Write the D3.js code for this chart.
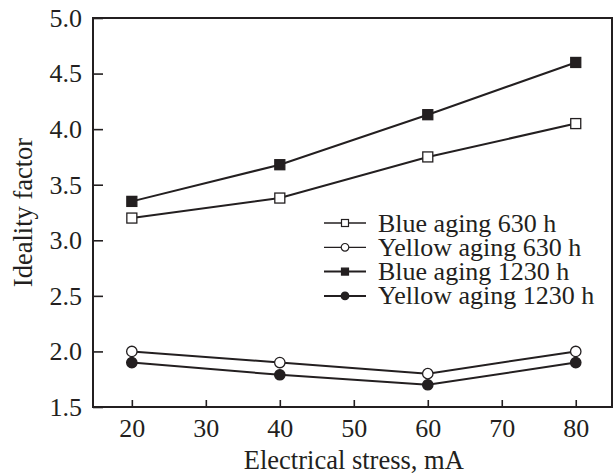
<!DOCTYPE html>
<html>
<head>
<meta charset="utf-8">
<script src="https://cdn.jsdelivr.net/npm/d3@7"></script>
<style>
  body { margin: 0; background: #fff; }
  text { font-family: "Liberation Serif", "Times New Roman", serif; fill: #231f20; }
</style>
</head>
<body>
<div id="chart"></div>
<script>
const stress = [20, 40, 60, 80];
const blue630 = [3.20, 3.38, 3.75, 4.05];
const yellow630 = [2.00, 1.90, 1.80, 2.00];
const blue1230 = [3.35, 3.68, 4.13, 4.60];
const yellow1230 = [1.90, 1.79, 1.70, 1.90];
const xTicks = [20, 30, 40, 50, 60, 70, 80];
const yTicks = [1.5, 2.0, 2.5, 3.0, 3.5, 4.0, 4.5, 5.0];
const seriesNames = ["Blue aging 630 h", "Yellow aging 630 h", "Blue aging 1230 h", "Yellow aging 1230 h"];

const series = [
  {name: seriesNames[0], values: blue630, shape: "square", fill: "#fff"},
  {name: seriesNames[1], values: yellow630, shape: "circle", fill: "#fff"},
  {name: seriesNames[2], values: blue1230, shape: "square", fill: "#231f20"},
  {name: seriesNames[3], values: yellow1230, shape: "circle", fill: "#231f20"}
];

const W = 613, H = 475;
const margin = {top: 18, right: 1, bottom: 68, left: 93};
const width = W - margin.left - margin.right;
const height = H - margin.top - margin.bottom;
const ink = "#231f20";

const svg = d3.select("#chart").append("svg")
  .attr("width", W)
  .attr("height", H);

const g = svg.append("g")
  .attr("transform", "translate(" + margin.left + "," + margin.top + ")");

const x = d3.scaleLinear().domain([14.75, 84.9]).range([0, width]);
const y = d3.scaleLinear().domain([1.5, 5.0]).range([height, 0]);

// frame
g.append("rect")
  .attr("width", width).attr("height", height)
  .attr("fill", "none").attr("stroke", ink).attr("stroke-width", 2);

// axes with inward ticks
const xAxis = g.append("g")
  .attr("transform", "translate(0," + height + ")")
  .call(d3.axisBottom(x).tickValues(xTicks).tickSize(-7).tickFormat(d3.format("d")));
const yAxis = g.append("g")
  .call(d3.axisLeft(y).tickValues(yTicks).tickSize(-10).tickPadding(11).tickFormat(d3.format(".1f")));

[xAxis, yAxis].forEach(a => {
  a.select(".domain").remove();
  a.selectAll(".tick line").attr("stroke", ink).attr("stroke-width", 1.6);
  a.selectAll("text").style("font-size", "26px").style("font-family", "Liberation Serif, serif").attr("fill", ink);
});
xAxis.selectAll("text").attr("y", 30).attr("dy", 0);

const line = d3.line()
  .x((d, i) => x(stress[i]))
  .y(d => y(d));

function drawMarker(sel, shape, fill) {
  if (shape === "square") {
    sel.append("rect").attr("x", -5).attr("y", -5).attr("width", 10).attr("height", 10)
      .attr("fill", fill).attr("stroke", ink).attr("stroke-width", 1.3);
  } else {
    sel.append("circle").attr("r", 5.2)
      .attr("fill", fill).attr("stroke", ink).attr("stroke-width", 1.3);
  }
}

series.forEach(s => {
  g.append("path")
    .datum(s.values)
    .attr("fill", "none")
    .attr("stroke", ink)
    .attr("stroke-width", 2)
    .attr("d", line);
  g.selectAll(null)
    .data(s.values)
    .enter()
    .append("g")
    .attr("transform", (d, i) => "translate(" + x(stress[i]) + "," + y(d) + ")")
    .each(function() { drawMarker(d3.select(this), s.shape, s.fill); });
});

// legend
const legend = g.append("g").attr("transform", "translate(" + (324 - margin.left) + "," + (223 - margin.top) + ")");
series.forEach((s, i) => {
  const row = legend.append("g").attr("transform", "translate(0," + (i * 24.3) + ")");
  row.append("line").attr("x1", 0).attr("x2", 42).attr("y1", 0).attr("y2", 0)
    .attr("stroke", ink).attr("stroke-width", s.fill === "#fff" ? 1.3 : 2);
  const m = row.append("g").attr("transform", "translate(21,0)");
  if (s.shape === "square") {
    m.append("rect").attr("x", -3.5).attr("y", -3.5).attr("width", 7).attr("height", 7)
      .attr("fill", s.fill).attr("stroke", ink).attr("stroke-width", 1.2);
  } else {
    m.append("circle").attr("r", 3.8).attr("fill", s.fill).attr("stroke", ink).attr("stroke-width", 1.2);
  }
  row.append("text").attr("x", 54).attr("y", 0).attr("dy", "0.33em")
    .style("font-size", "26px").text(s.name);
});

// axis titles
svg.append("text")
  .attr("x", margin.left + x(50))
  .attr("y", 469)
  .attr("text-anchor", "middle")
  .style("font-size", "26.5px")
  .text("Electrical stress, mA");

svg.append("text")
  .attr("transform", "translate(32," + (margin.top + height / 2) + ") rotate(-90)")
  .attr("text-anchor", "middle")
  .style("font-size", "26.5px")
  .text("Ideality factor");
</script>
</body>
</html>
